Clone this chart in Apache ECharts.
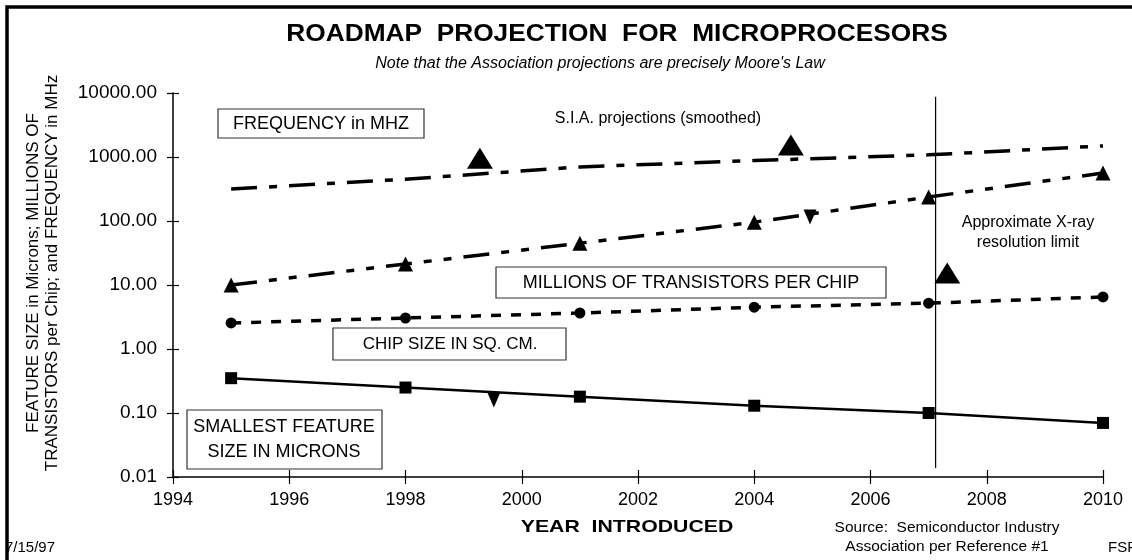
<!DOCTYPE html>
<html>
<head>
<meta charset="utf-8">
<script src="https://cdn.jsdelivr.net/npm/echarts@6/dist/echarts.min.js"></script>
<style>
  html, body { margin: 0; padding: 0; background: #fff; }
  #chart { width: 1132px; height: 560px; }
</style>
</head>
<body>
<div id="chart"></div>
<script>
// years where the S.I.A. roadmap gives values
var years = [1995, 1998, 2001, 2004, 2007, 2010];
var frequencyMHz = [316, 450, 700, 880, 1080, 1490];
var transistorsM = [10, 21.3, 45, 96, 237, 562];
var chipSizeCm2 = [2.55, 3.05, 3.65, 4.5, 5.2, 6.5];
var featureMicrons = [0.35, 0.25, 0.18, 0.13, 0.10, 0.07];

// stray markers left on the original sheet
var bigTriangles = [[1999.28, 960], [2004.63, 1540], [2007.32, 15.4]];
var downTriangles = [[2004.96, 115], [1999.52, 0.16]];

// x-ray limit marker line
var xrayYear = 2007.12;
var xrayRange = [8700, 0.0138];

var yTicks = [0.01, 0.1, 1, 10, 100, 1000, 10000];

var FONT = '"Liberation Sans", Arial, sans-serif';

function pairs(xs, ys) {
    return xs.map(function (x, i) { return [x, ys[i]]; });
}

var myChart = echarts.init(document.getElementById('chart'));

function box(x, y, w, h) {
    return {
        type: 'rect', shape: { x: x, y: y, width: w, height: h },
        style: { fill: '#fff', stroke: '#333', lineWidth: 1.2 }, z: 100
    };
}
// text centred on x,y; sx stretches it sideways like the original's wide lettering
function label(x, y, str, font, sx, align) {
    return {
        type: 'text', x: x, y: y, scaleX: sx || 1, z: 101,
        style: { text: str, fill: '#000', font: font || ('18px ' + FONT), align: align || 'center', verticalAlign: 'middle' }
    };
}
function vlabel(x, y, str) {
    return {
        type: 'text', x: x, y: y, rotation: Math.PI / 2, z: 101,
        style: { text: str, fill: '#000', font: '17px ' + FONT, align: 'center', verticalAlign: 'middle' }
    };
}

var option = {
    animation: false,
    backgroundColor: '#fff',
    grid: { left: 173, top: 93, width: 930, height: 384, containLabel: false },
    xAxis: [{
        type: 'value', min: 1994, max: 2010, interval: 2,
        axisLine: { lineStyle: { color: '#000', width: 1.5 } },
        axisTick: { length: 7, lineStyle: { color: '#000', width: 1.2 } },
        axisLabel: { color: '#000', fontFamily: FONT, fontSize: 18, margin: 14, formatter: function (v) { return String(v); } },
        splitLine: { show: false }
    }, {
        // second copy only for the inner half of the crossing ticks
        type: 'value', min: 1994, max: 2010, interval: 2, position: 'bottom',
        axisLine: { show: false },
        axisTick: { inside: true, length: 7, lineStyle: { color: '#000', width: 1.2 } },
        axisLabel: { show: false }, splitLine: { show: false }
    }],
    yAxis: [{
        type: 'log', logBase: 10, min: yTicks[0], max: yTicks[yTicks.length - 1], interval: 1,
        axisLine: { show: true, lineStyle: { color: '#000', width: 1.5 } },
        axisTick: { show: true, length: 6, lineStyle: { color: '#000', width: 1.2 } },
        axisLabel: { color: '#000', fontFamily: FONT, fontSize: 19, margin: 16, formatter: function (v) { return Number(v).toFixed(2); } },
        splitLine: { show: false }
    }, {
        type: 'log', logBase: 10, min: yTicks[0], max: yTicks[yTicks.length - 1], interval: 1, position: 'left',
        axisLine: { show: false },
        axisTick: { show: true, inside: true, length: 6, lineStyle: { color: '#000', width: 1.2 } },
        axisLabel: { show: false }, splitLine: { show: false }
    }],
    series: [{
        name: 'Frequency', type: 'line', data: pairs(years, frequencyMHz),
        symbol: 'none', lineStyle: { color: '#000', width: 3.5, type: [26, 12, 8, 12] }, z: 3
    }, {
        name: 'Transistors', type: 'line', data: pairs(years, transistorsM),
        symbol: 'triangle', symbolSize: [15, 15], itemStyle: { color: '#000' },
        lineStyle: { color: '#000', width: 3.5, type: [26, 12, 8, 12, 8, 12] }, z: 3
    }, {
        name: 'Chip size', type: 'line', data: pairs(years, chipSizeCm2),
        symbol: 'circle', symbolSize: 11, itemStyle: { color: '#000' },
        lineStyle: { color: '#000', width: 3.5, type: [10, 10] }, z: 3
    }, {
        name: 'Feature size', type: 'line', data: pairs(years, featureMicrons),
        symbol: 'rect', symbolSize: 12, itemStyle: { color: '#000' },
        lineStyle: { color: '#000', width: 2.5 }, z: 3
    }, {
        name: 'extra up', type: 'scatter', data: bigTriangles,
        symbol: 'triangle', symbolSize: [26, 21], itemStyle: { color: '#000', opacity: 1 }, z: 4
    }, {
        name: 'extra down', type: 'scatter', data: downTriangles,
        symbol: 'triangle', symbolRotate: 180, symbolSize: [13, 15], itemStyle: { color: '#000', opacity: 1 }, z: 4
    }, {
        name: 'X-ray limit', type: 'line', xAxisIndex: 1, yAxisIndex: 1,
        data: [[xrayYear, xrayRange[0]], [xrayYear, xrayRange[1]]],
        symbol: 'none', lineStyle: { color: '#000', width: 1.2 }, z: 2
    }],
    graphic: [
        { type: 'rect', shape: { x: 7, y: 7, width: 1140, height: 570 }, style: { fill: 'none', stroke: '#000', lineWidth: 3.5 }, z: 90 },
        label(617, 34, 'ROADMAP  PROJECTION  FOR  MICROPROCESORS', 'bold 24px ' + FONT, 1.095),
        label(600, 64, "Note that the Association projections are precisely Moore's Law", 'italic 16px ' + FONT),
        box(218, 109, 206, 29), label(321, 124, 'FREQUENCY in MHZ'),
        box(496, 267, 390, 31), label(691, 283, 'MILLIONS OF TRANSISTORS PER CHIP'),
        box(333, 328, 233, 32), label(450, 344, 'CHIP SIZE IN SQ. CM.', '17px ' + FONT),
        box(187, 410, 195, 59), label(284, 427, 'SMALLEST FEATURE'), label(284, 452, 'SIZE IN MICRONS'),
        label(658, 119, 'S.I.A. projections (smoothed)', '16px ' + FONT),
        label(1028, 223, 'Approximate X-ray', '16px ' + FONT), label(1028, 243, 'resolution limit', '16px ' + FONT),
        vlabel(33, 273, 'FEATURE SIZE in Microns; MILLIONS OF'),
        vlabel(52, 273, 'TRANSISTORS per Chip; and FREQUENCY in MHz'),
        label(627, 527, 'YEAR  INTRODUCED', 'bold 17px ' + FONT, 1.25),
        label(947, 528, 'Source:  Semiconductor Industry', '15.5px ' + FONT),
        label(947, 547, 'Association per Reference #1', '15.5px ' + FONT),
        label(5, 548, '7/15/97', '15px ' + FONT, 1, 'left'),
        label(1108, 548, 'FSP', '15px ' + FONT, 1, 'left')
    ]
};

myChart.setOption(option);
window.addEventListener('resize', function () {
    myChart.resize();
});
</script>
</body>
</html>
